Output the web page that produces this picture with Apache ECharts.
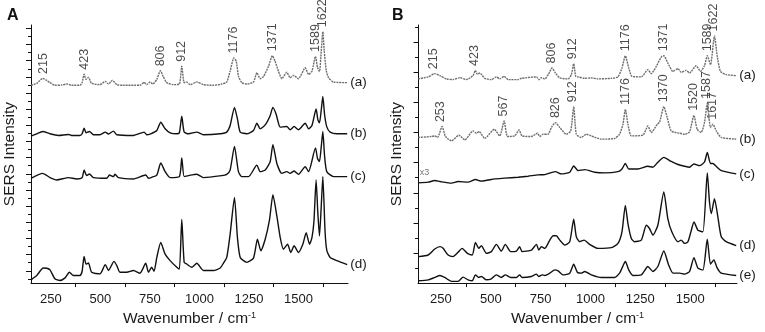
<!DOCTYPE html>
<html>
<head>
<meta charset="utf-8">
<script src="https://cdn.jsdelivr.net/npm/echarts@6/dist/echarts.min.js"></script>
<style>
html, body { margin: 0; padding: 0; background: #fff; }
#chart { width: 765px; height: 332px; }
</style>
</head>
<body>
<div id="chart"></div>
<script>
// spectra as [wavenumber (cm-1), stacked intensity (a.u.)]
var specAa = [[150,200],[179,202],[209,207],[229,205],[246,202.7],[271,200],[305,200.3],[330,201.3],[355,200],[397,200],[408,202.7],[418,211.3],[428,206],[440,208],[456,202],[498,200.7],[525,204],[541,201.3],[561,205],[583,200.7],[616,200],[700,200],[721,203],[734,200.7],[751,203.3],[764,201.3],[785,206],[803,214.7],[818,208.7],[835,202.7],[869,200.7],[899,201.3],[911,219.3],[923,202.7],[936,203.3],[953,200.7],[987,203.3],[1020,200.7],[1071,200],[1113,201.3],[1138,203.3],[1155,214.3],[1174,227.7],[1186,224.3],[1197,209.3],[1214,202.7],[1239,201.3],[1273,203.3],[1290,212.7],[1307,206.7],[1323,208.7],[1349,219.3],[1368,230],[1382,224.3],[1399,214.3],[1416,206.7],[1441,213.3],[1458,207.7],[1475,210],[1500,206.7],[1534,217.7],[1551,211],[1568,214.3],[1586,229.3],[1596,218],[1606,214],[1615,235],[1623,254.3],[1630,235],[1640,215],[1652,207.7],[1677,203.3],[1746,202.7]];
var specAb = [[150,148.7],[179,151],[209,153.3],[246,151],[288,149.3],[339,150.3],[355,149.3],[397,149.3],[408,151],[418,156.7],[428,152],[445,153.3],[465,150],[498,150],[525,152.7],[541,150.7],[566,153.7],[583,150],[667,149.3],[721,152.7],[734,150],[754,151],[785,154.3],[805,162.7],[827,156],[852,152],[886,151],[899,152],[911,168.7],[923,152.7],[945,151],[987,152.7],[1020,150],[1105,151],[1138,152.7],[1155,159.3],[1177,177.7],[1192,166],[1206,152.7],[1239,151],[1273,154.3],[1290,161.7],[1307,156],[1332,160],[1357,169.3],[1371,177.7],[1387,171],[1408,157.7],[1441,158.3],[1458,155],[1478,158.3],[1500,155],[1534,161.7],[1551,156],[1568,159.3],[1589,176],[1598,165],[1606,162],[1615,175],[1623,188.7],[1632,170],[1643,158],[1660,152.7],[1694,151],[1746,151]];
var specAc = [[150,106],[209,111],[246,106.7],[280,104.3],[339,106.7],[381,105.3],[408,106.7],[418,114.3],[431,108.7],[445,110.3],[465,106.7],[532,106],[546,109.3],[566,107.7],[574,110],[591,106.7],[667,105.3],[729,109.3],[743,106],[759,107],[785,109.3],[805,121.5],[827,112.7],[852,106.7],[899,107.7],[911,126.5],[923,107.7],[945,108.7],[987,110],[1020,106.7],[1113,108.7],[1138,110],[1155,114.3],[1177,138.3],[1197,112.7],[1214,107.7],[1248,107.7],[1290,119.3],[1307,112.7],[1332,114.3],[1357,122.7],[1371,140],[1391,121],[1416,111],[1441,112.7],[1458,111],[1478,113.3],[1500,110],[1534,117.7],[1551,112.7],[1586,136.7],[1596,126],[1606,123],[1615,138],[1623,153.3],[1632,128],[1643,112.7],[1677,107.7],[1746,107.7]];
var specAd = [[150,3.3],[179,7.7],[212,15.3],[230,15],[246,13.3],[271,4.3],[296,2.7],[322,5.3],[344,11],[364,7.7],[397,7.7],[408,12],[418,27],[428,19.3],[440,20.3],[456,11],[498,9.3],[525,18.7],[541,12.7],[569,22],[583,17.7],[599,11],[633,11],[667,12.7],[700,10],[729,20],[743,11],[759,16],[771,12],[785,26],[805,41],[827,29.3],[852,22.7],[886,16],[899,14.3],[911,64.3],[923,21],[936,19.3],[961,16],[987,20],[1020,12.7],[1071,12.7],[1105,15.3],[1121,20],[1138,26],[1155,49.3],[1177,86.7],[1192,46],[1206,26],[1239,21],[1273,25.3],[1293,44.3],[1310,32.7],[1332,44.3],[1354,64.3],[1371,89.3],[1391,67.7],[1408,46],[1424,34.3],[1445,39.3],[1461,31],[1478,37.7],[1500,31],[1522,39.3],[1539,51],[1556,39.3],[1568,46],[1578,62],[1589,104.3],[1598,70],[1606,47.7],[1615,78],[1623,107.7],[1634,53],[1643,33],[1660,26],[1694,22.7],[1746,18.7]];

var specBa = [[136,205.7],[186,207.7],[219,211],[245,209],[278,205.7],[311,205],[345,207],[378,205],[411,209],[423,214.3],[433,210.3],[445,211.7],[470,206.3],[503,205],[528,207.7],[545,205.7],[567,208.3],[587,205],[637,205],[654,206.3],[729,207.7],[741,205],[754,207],[771,205.7],[791,211],[807,216.7],[824,211.7],[846,206.7],[888,205.7],[904,210],[916,221],[926,208.3],[938,207.7],[971,206.3],[1004,206.7],[1038,205.7],[1105,206.3],[1138,207.7],[1158,216.7],[1175,229],[1192,216.7],[1208,208.3],[1255,207.7],[1288,215],[1305,211],[1330,218.3],[1355,227.7],[1368,229],[1388,221.7],[1414,213.3],[1439,216],[1455,212.3],[1480,214.3],[1497,211.7],[1530,219],[1552,213.3],[1572,219],[1586,229],[1602,220],[1622,249],[1636,228.3],[1652,213.3],[1681,210],[1731,209]];
var specBb = [[136,146.7],[203,147.7],[219,148.3],[233,146.7],[256,157.7],[273,147.7],[303,143.3],[340,149],[370,144.3],[411,153.3],[428,151],[442,152.7],[470,145.7],[517,155],[545,148.3],[567,163.3],[584,147.7],[620,148.3],[642,154.3],[657,148.3],[704,147.7],[734,151],[746,147.7],[762,150],[787,150],[804,156.7],[824,161.7],[846,156.7],[879,150],[901,153.3],[916,177.7],[929,150],[954,146.7],[979,150],[1004,148.3],[1055,145],[1121,145.7],[1146,150],[1163,160],[1175,175],[1188,160],[1205,148.3],[1263,149],[1288,158.3],[1305,151.7],[1335,160],[1347,162.3],[1368,177.7],[1385,166.7],[1405,153.3],[1447,151],[1472,150],[1497,152.3],[1519,169],[1535,155],[1555,151.7],[1572,161.7],[1586,181],[1602,156.7],[1614,160],[1631,153.3],[1656,146.7],[1731,145]];
var specBc = [[136,101],[186,101.7],[219,103.3],[245,102.3],[303,100.7],[336,102.3],[386,101.7],[423,104.3],[453,102.7],[520,105],[570,105.7],[637,106.7],[687,107.7],[737,109],[771,109.3],[824,112.3],[854,110],[896,111.7],[916,118],[938,113.3],[971,114.3],[1021,111.7],[1071,111],[1138,112.3],[1158,115],[1175,120.5],[1192,115],[1238,115],[1288,117.7],[1313,116.7],[1338,121.7],[1368,126.7],[1405,122.5],[1439,119.5],[1472,117.7],[1497,116.7],[1519,120],[1547,118.3],[1572,122],[1586,131.7],[1602,120.5],[1614,120.5],[1631,117.5],[1656,113.3],[1731,110]];
var specBd = [[136,26.7],[186,28.3],[219,34.3],[245,36.7],[261,35],[286,28.3],[311,26.7],[336,31],[356,35],[383,30],[407,28.3],[423,41],[440,35],[453,37.7],[478,30],[503,31.7],[528,39],[553,32.3],[573,39],[600,31.7],[629,32.3],[645,36.7],[657,31.7],[704,33.3],[729,39],[741,33.3],[754,36.7],[771,35],[796,43.3],[813,47.7],[829,47.7],[846,43.3],[871,38.3],[896,41.7],[916,64.3],[929,46.7],[946,41.7],[968,43.3],[996,39],[1038,35],[1105,35.7],[1138,40],[1158,51.7],[1175,78.3],[1188,60],[1205,45],[1221,41.7],[1255,43.3],[1280,58.3],[1296,55],[1313,48.3],[1338,58.3],[1368,91.7],[1388,65],[1408,51.7],[1439,41.7],[1455,43.3],[1472,40],[1489,41.7],[1506,53.3],[1519,61.7],[1539,53.3],[1564,51.7],[1586,111],[1597,81.7],[1606,70],[1622,85],[1639,66.7],[1656,46.7],[1681,41.7],[1731,37.7]];
var specBe = [[136,2.3],[186,3.3],[219,5.7],[245,7.7],[269,5.7],[303,1.7],[336,1.7],[361,6],[386,3.3],[407,2.3],[423,8.3],[440,5.7],[453,6.7],[478,3.3],[503,4.3],[528,8.3],[553,5.7],[573,8.3],[600,5.7],[629,5.7],[645,8.3],[657,5.7],[704,6.7],[729,9],[741,6.7],[758,8.3],[771,7.7],[796,10],[821,13.3],[838,12.3],[863,8.3],[896,10],[916,19],[934,11],[954,10],[971,11.7],[1004,8.3],[1055,5.7],[1121,5.7],[1146,10],[1158,15],[1175,21.7],[1192,13.3],[1213,7.7],[1255,8.3],[1288,16.7],[1313,11.7],[1338,16.7],[1368,32.3],[1392,18.3],[1414,10],[1447,10],[1472,9],[1497,11.7],[1519,25.7],[1539,15],[1564,13.3],[1586,44.3],[1602,19],[1619,23.3],[1636,15],[1656,10],[1731,7.7]];

// annotated peak positions
var peaksAa = [215, 423, 806, 912, 1176, 1371, 1589, 1622];
var peaksBa = [215, 423, 806, 912, 1176, 1371, 1589, 1622];
var peaksBb = [253, 567, 826, 912, 1176, 1370, 1520, 1587, 1617];

var tagsA = ['(a)', '(b)', '(c)', '(d)'];
var tagsB = ['(a)', '(b)', '(c)', '(d)', '(e)'];
var xTickLabels = [250, 500, 750, 1000, 1250, 1500];
var xTickMarks = [375, 625, 875, 1125, 1375, 1625];

var FONT = '"Liberation Sans", Arial, sans-serif';
var INK = '#1a1a1a';

var chart = echarts.init(document.getElementById('chart'));

function topNear(spec, x) {
    var m = -Infinity;
    spec.forEach(function (p) {
        if (Math.abs(p[0] - x) <= 12 && p[1] > m) m = p[1];
    });
    return m;
}

// y ticks of the arbitrary intensity scale: alternating long / short marks
function yTicks(first, step, max, odd) {
    var out = [];
    for (var k = 0, v = first; v <= max; k++, v = first + k * step) {
        if ((k % 2 === 1) === odd) out.push(v);
    }
    return out;
}

function lineSeries(spec, panel, tag, dotted) {
    return {
        type: 'line',
        xAxisIndex: panel,
        yAxisIndex: panel * 2,
        data: spec,
        symbol: 'none',
        smooth: 0.2,
        silent: true,
        lineStyle: dotted
            ? { color: '#6e6e6e', width: 1.4, type: [2, 0.8] }
            : { color: '#111', width: 1.4 },
        endLabel: {
            show: true,
            formatter: tag,
            distance: 3,
            color: INK,
            fontSize: 13.5,
            fontFamily: FONT
        }
    };
}

function peakSeries(spec, peaks, panel) {
    return {
        type: 'scatter',
        xAxisIndex: panel,
        yAxisIndex: panel * 2,
        silent: true,
        symbolSize: 1,
        itemStyle: { color: 'rgba(0,0,0,0)' },
        data: peaks.map(function (p) { return [p, topNear(spec, p) + 4, p]; }),
        label: {
            show: true,
            position: [0, 0],
            rotate: 90,
            align: 'left',
            verticalAlign: 'middle',
            formatter: function (d) { return String(d.value[2]); },
            fontSize: 12.5,
            color: INK,
            fontFamily: FONT
        }
    };
}

function xAxis(panel, min, max) {
    return {
        type: 'value',
        gridIndex: panel,
        min: min,
        max: max,
        name: 'Wavenumber / cm{sup|-1}',
        nameLocation: 'middle',
        nameGap: 16,
        nameTextStyle: {
            fontFamily: FONT, fontSize: 15.5, color: INK,
            rich: { sup: { fontFamily: FONT, fontSize: 9, color: INK, verticalAlign: 'top' } }
        },
        axisLine: { lineStyle: { color: '#111', width: 1 } },
        axisTick: { show: true, customValues: xTickMarks, length: 4, lineStyle: { color: '#111' } },
        axisLabel: {
            customValues: xTickLabels,
            formatter: function (v) { return String(v); },
            fontFamily: FONT, fontSize: 13, color: INK, margin: 10
        },
        splitLine: { show: false }
    };
}

function yAxis(panel, max, ticks, len, main) {
    return {
        type: 'value',
        gridIndex: panel,
        position: 'left',
        offset: 0,
        min: 0,
        max: max,
        name: main ? 'SERS Intensity' : '',
        nameLocation: 'middle',
        nameGap: 13,
        nameTextStyle: { fontFamily: FONT, fontSize: 15.5, color: INK },
        axisLine: { show: main, onZero: false, lineStyle: { color: '#111', width: 1 } },
        axisTick: { show: true, customValues: ticks, length: len, lineStyle: { color: '#111' } },
        axisLabel: { show: false },
        splitLine: { show: false }
    };
}

var panelTitle = { fontFamily: FONT, fontSize: 16, fontWeight: 'bold', color: '#111' };

var option = {
    animation: false,
    backgroundColor: '#fff',
    title: [
        { text: 'A', left: 7, top: 8, padding: 0, textStyle: panelTitle },
        { text: 'B', left: 392, top: 8, padding: 0, textStyle: panelTitle }
    ],
    grid: [
        { left: 31, top: 25, width: 317, height: 261 },
        { left: 418, top: 25, width: 319, height: 260 }
    ],
    xAxis: [xAxis(0, 150, 1750), xAxis(1, 135, 1735)],
    yAxis: [
        yAxis(0, 261, yTicks(4.3, 8.17, 261, true), 5, true),
        yAxis(0, 261, yTicks(4.3, 8.17, 261, false), 3, false),
        yAxis(1, 260, yTicks(15, 15.2, 260, true), 4.5, true),
        yAxis(1, 260, yTicks(15, 15.2, 260, false), 3, false)
    ],
    series: [
        lineSeries(specAa, 0, tagsA[0], true),
        lineSeries(specAb, 0, tagsA[1], false),
        lineSeries(specAc, 0, tagsA[2], false),
        lineSeries(specAd, 0, tagsA[3], false),
        lineSeries(specBa, 1, tagsB[0], true),
        lineSeries(specBb, 1, tagsB[1], true),
        lineSeries(specBc, 1, tagsB[2], false),
        lineSeries(specBd, 1, tagsB[3], false),
        lineSeries(specBe, 1, tagsB[4], false),
        peakSeries(specAa, peaksAa, 0),
        peakSeries(specBa, peaksBa, 1),
        peakSeries(specBb, peaksBb, 1),
        {
            // scale factor note on trace (c)
            type: 'scatter',
            xAxisIndex: 1,
            yAxisIndex: 2,
            silent: true,
            symbolSize: 1,
            itemStyle: { color: 'rgba(0,0,0,0)' },
            data: [[specBc[0][0], specBc[0][1], 'x3']],
            label: {
                show: true,
                position: [2, -14],
                align: 'left',
                verticalAlign: 'top',
                formatter: function (d) { return d.value[2]; },
                fontSize: 9,
                color: '#555',
                fontFamily: FONT
            }
        }
    ]
};

chart.setOption(option);
</script>
</body>
</html>
